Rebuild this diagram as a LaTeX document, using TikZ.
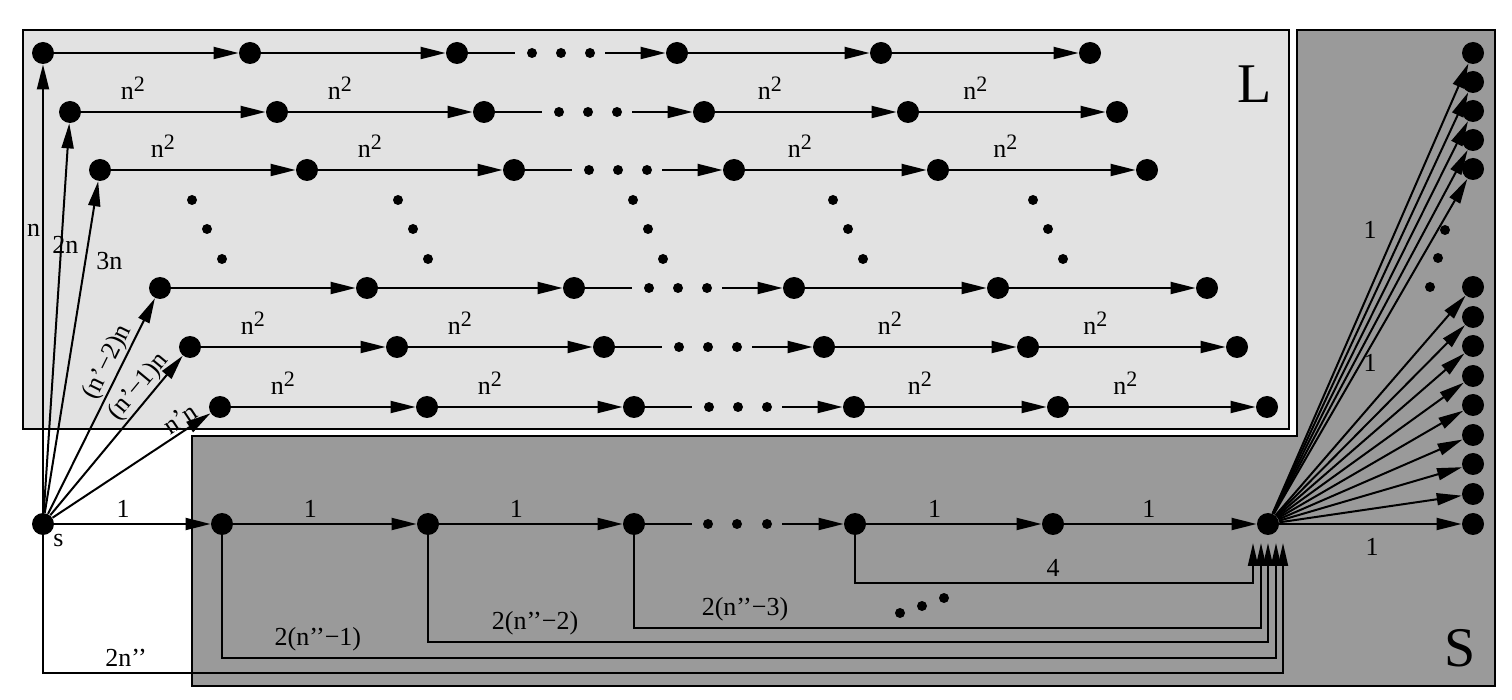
\documentclass[tikz,border=0pt]{standalone}
\usepackage{fontspec}
\setmainfont{Liberation Serif}
\usetikzlibrary{arrows.meta,positioning,calc}
\definecolor{lboxgray}{HTML}{E2E2E2}
\definecolor{sboxgray}{HTML}{9A9A9A}
\newcommand{\nsq}{n\raisebox{4pt}{\fontsize{11}{11}\selectfont 2}}

\begin{document}
\begin{tikzpicture}[
    x=0.5pt, y=-0.5pt,
    vtx/.style={circle, fill=black, inner sep=0pt, minimum size=11pt},
    dotm/.style={circle, fill=black, inner sep=0pt, minimum size=5pt},
    arrow/.style={draw, line width=1pt, -{Triangle[length=12.5pt, width=6pt]}},
    arrowup/.style={draw, line width=1pt, -{Triangle[length=11.5pt, width=5pt]}},
    link/.style={draw, line width=1pt},
    wt/.style={font=\fontsize{13}{13}\selectfont, inner sep=2pt},
    big/.style={font=\fontsize{28}{28}\selectfont}
]

\useasboundingbox (0,0) rectangle (1512,700);

% the two regions
\draw [line width=1pt, fill=lboxgray] (23,30) rectangle (1289,429);
\draw [line width=1pt, fill=sboxgray] (192,436) -- (1297,436) -- (1297,30) -- (1495,30) -- (1495,686) -- (192,686) -- cycle;
\node [big] (Lname) at (1255,84) {L};
\node [big] (Sname) at (1460,648) {S};

% rows of L
\foreach \r/\y/\a/\lab in {1/53/43/{}, 2/112/70/{\nsq}, 3/170/100/{\nsq},
                          4/288/160/{}, 5/347/190/{\nsq}, 6/407/220/{\nsq}} {
  \foreach \k/\dx in {1/0, 2/207, 3/414, 4/634, 5/838, 6/1047}
    \node [vtx] (r\r-\k) at (\a+\dx,\y) {};
  \foreach \j/\dx in {1/489, 2/518, 3/547}
    \node [dotm] (r\r-d\j) at (\a+\dx,\y) {};
  \coordinate (r\r-in) at (\a+472,\y);
  \coordinate (r\r-out) at (\a+562,\y);
  \draw [arrow] (r\r-1) -- node[wt, pos=0.28, above=3.5pt] {\lab} (r\r-2);
  \draw [arrow] (r\r-2) -- node[wt, pos=0.28, above=3.5pt] {\lab} (r\r-3);
  \draw [link] (r\r-3) -- (r\r-in);
  \draw [arrow] (r\r-out) -- (r\r-4);
  \draw [arrow] (r\r-4) -- node[wt, pos=0.3, above=3.5pt] {\lab} (r\r-5);
  \draw [arrow] (r\r-5) -- node[wt, pos=0.3, above=3.5pt] {\lab} (r\r-6);
}

% vertical dots between the row groups
\foreach \c/\x in {1/192, 2/398, 3/633, 4/833, 5/1033}
  \foreach \j/\dx/\y in {1/0/200, 2/15/229, 3/30/259}
    \node [dotm] (v\c-\j) at (\x+\dx,\y) {};

% source and chain of S
\node [vtx, label={[wt, inner sep=1pt]below right:s}] (s) at (43,524) {};
\node [vtx] (b1) at (222,524) {};
\node [vtx] (b2) at (428,524) {};
\node [vtx] (b3) at (634,524) {};
\node [vtx] (b4) at (855,524) {};
\node [vtx] (b5) at (1053,524) {};
\node [vtx] (hub) at (1268,524) {};
\node [dotm] (bd1) at (708,524) {};
\node [dotm] (bd2) at (737,524) {};
\node [dotm] (bd3) at (767,524) {};
\coordinate (b-in) at (692,524);
\coordinate (b-out) at (782,524);

\draw [arrow] (s) -- node[wt, pos=0.44, above=1pt] {1} (b1);
\draw [arrow] (b1) -- node[wt, pos=0.42, above=1pt] {1} (b2);
\draw [arrow] (b2) -- node[wt, pos=0.42, above=1pt] {1} (b3);
\draw [link] (b3) -- (b-in);
\draw [arrow] (b-out) -- (b4);
\draw [arrow] (b4) -- node[wt, pos=0.39, above=1pt] {1} (b5);
\draw [arrow] (b5) -- node[wt, pos=0.44, above=1pt] {1} (hub);

% fan from s into L
\draw [arrow] (s) -- node[wt, pos=0.63, left=-1pt] {n} (r1-1);
\draw [arrow] (s) -- node[wt, pos=0.687, xshift=2pt] {2n} (r2-1);
\draw [arrow] (s) -- node[wt, pos=0.76, right, xshift=3pt] {3n} (r3-1);
\draw [arrow] (s) -- node[wt, pos=0.674, sloped, above, inner sep=0.5pt] {(n’−2)n} (r4-1);
\draw [arrow] (s) -- node[wt, pos=0.749, sloped, above, inner sep=0.5pt] {(n’−1)n} (r5-1);
\draw [arrow] (s) -- node[wt, pos=0.85, sloped, above, inner sep=1.5pt] {n’n} (r6-1);

% returns into the hub
\coordinate (in1) at (1253,543);
\coordinate (in2) at (1261,543);
\coordinate (in3) at (1268,543);
\coordinate (in4) at (1276,543);
\coordinate (in5) at (1283,543);
\draw [arrowup] (b4) -- ++(0,59) -| node[wt, pos=0.249, above=1pt] {4} (in1);
\draw [arrowup] (b3) -- ++(0,104) -| node[wt, pos=0.0885, above=1pt] {2(n’’−3)} (in2);
\draw [arrowup] (b2) -- ++(0,118) -| node[wt, pos=0.0637, above=1pt] {2(n’’−2)} (in3);
\draw [arrowup] (b1) -- ++(0,134) -| node[wt, pos=0.0455, above=1pt] {2(n’’−1)} (in4);
\draw [arrowup] (s) -- ++(0,149) -| node[wt, pos=0.0335, above=1pt] {2n’’} (in5);
\node [dotm] (ed1) at (900,613) {};
\node [dotm] (ed2) at (922,606) {};
\node [dotm] (ed3) at (944,598) {};

% fan out of the hub
\foreach \i/\ty in {1/53, 2/82, 3/111, 4/140, 5/169, 6/287, 7/317, 8/346, 9/376,
                    10/405, 11/435, 12/464, 13/494, 14/524} {
  \node [vtx] (t\i) at (1473,\ty) {};
  \draw [arrow] (hub) -- (t\i);
}
\node [dotm] (td1) at (1445,230) {};
\node [dotm] (td2) at (1438,258) {};
\node [dotm] (td3) at (1430,287) {};
\node [wt] (f1) at (1370,230) {1};
\node [wt] (f2) at (1370,363) {1};
\node [wt] (f3) at (1372,547) {1};

\end{tikzpicture}
\end{document}
